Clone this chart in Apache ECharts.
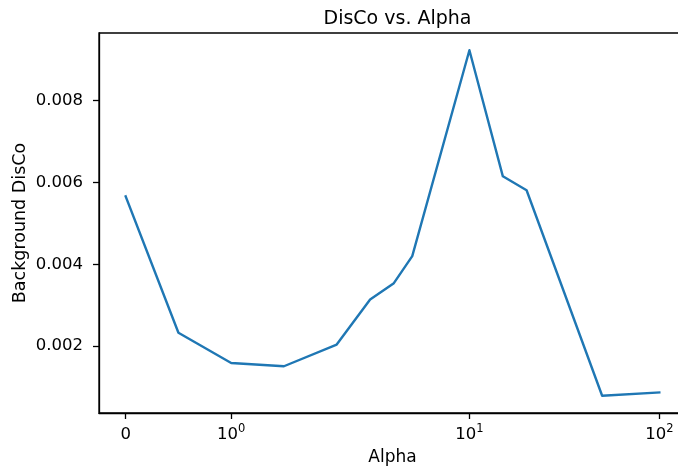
<!DOCTYPE html>
<html>
<head>
<meta charset="utf-8">
<script src="https://cdn.jsdelivr.net/npm/echarts@6.0.0/dist/echarts.min.js"></script>
<style>html,body{margin:0;padding:0;background:#fff}#c{width:678px;height:468px}</style>
</head>
<body>
<div id="c"></div>
<script>
const alphaValues = [0, 0.5, 1, 1.5, 2, 3, 4, 5, 10, 15, 20, 50, 100];
const discoValues = [0.00566, 0.00233, 0.00159, 0.00151, 0.00204, 0.00314, 0.00354, 0.00420, 0.00923, 0.00615, 0.00581, 0.00079, 0.00087];
const xTickValues = [0, 1, 10, 100];
const xTickLabels = ['{b|0}', '{b|10}{sup|0}', '{b|10}{sup|1}', '{b|10}{sup|2}'];
const yTickValues = [0.002, 0.004, 0.006, 0.008];
const yTickLabels = ['0.002', '0.004', '0.006', '0.008'];

// symmetric log scale (linthresh = 2, linscale = 1, base 10), in decade units
const LINTHRESH = 2, LINSCALE_ADJ = 1 / (1 - 1 / 10);
function symlog(x) {
  const a = Math.abs(x), s = Math.sign(x);
  if (a <= LINTHRESH) return x / LINTHRESH * LINSCALE_ADJ;
  return s * (LINSCALE_ADJ + Math.log10(a / LINTHRESH));
}

const tx = alphaValues.map(symlog);
const txMin = Math.min(...tx), txMax = Math.max(...tx);
const yMinD = Math.min(...discoValues), yMaxD = Math.max(...discoValues);
const xm = 0.05 * (txMax - txMin), ym = 0.05 * (yMaxD - yMinD);

const font = 'DejaVu Sans';
const chart = echarts.init(document.getElementById('c'), null, {renderer: 'canvas'});
chart.setOption({
  animation: false,
  backgroundColor: '#fff',
  title: {
    text: 'DisCo vs. Alpha',
    left: 392.5, textAlign: 'center', top: 5,
    textStyle: {fontFamily: font, fontSize: 19, fontWeight: 'normal', color: '#000'}
  },
  grid: {
    left: 99, right: -8, top: 33, bottom: 55,
    outerBoundsMode: 'none', containLabel: false,
    show: true, borderColor: '#000', borderWidth: 1.3, backgroundColor: 'transparent'
  },
  xAxis: {
    type: 'value',
    min: txMin - xm, max: txMax + xm,
    name: 'Alpha', nameLocation: 'middle', nameGap: 36, nameMoveOverlap: false,
    nameTextStyle: {fontFamily: font, fontSize: 17, color: '#000'},
    axisLine: {show: true, onZero: false, lineStyle: {color: '#000', width: 1.3}},
    axisTick: {show: true, inside: false, length: 6, lineStyle: {color: '#000', width: 1.3},
      customValues: xTickValues.map(symlog)},
    splitLine: {show: false},
    axisLabel: {
      show: true, margin: 10, color: '#000', fontFamily: font, fontSize: 16.5,
      customValues: xTickValues.map(symlog),
      formatter: function (v) {
        let best = 0, bd = Infinity;
        xTickValues.forEach((t, i) => { const d = Math.abs(symlog(t) - v); if (d < bd) { bd = d; best = i; } });
        return xTickLabels[best];
      },
      rich: {
        b: {fontFamily: font, fontSize: 16.5, color: '#000', verticalAlign: 'bottom', lineHeight: 20},
        sup: {fontFamily: font, fontSize: 11.5, color: '#000', verticalAlign: 'top', lineHeight: 8}
      }
    }
  },
  yAxis: {
    type: 'value',
    min: yMinD - ym, max: yMaxD + ym,
    name: 'Background DisCo', nameLocation: 'middle', nameGap: 70, nameRotate: 90, nameMoveOverlap: false,
    nameTextStyle: {fontFamily: font, fontSize: 17.5, color: '#000'},
    axisLine: {show: true, onZero: false, lineStyle: {color: '#000', width: 1.3}},
    axisTick: {show: true, inside: false, length: 6, lineStyle: {color: '#000', width: 1.3},
      customValues: yTickValues},
    splitLine: {show: false},
    axisLabel: {
      show: true, margin: 16, color: '#000', fontFamily: font, fontSize: 16.5,
      customValues: yTickValues,
      formatter: function (v) {
        let best = 0, bd = Infinity;
        yTickValues.forEach((t, i) => { const d = Math.abs(t - v); if (d < bd) { bd = d; best = i; } });
        return yTickLabels[best];
      }
    }
  },
  series: [{
    type: 'line',
    data: alphaValues.map((a, i) => [symlog(a), discoValues[i]]),
    showSymbol: false, symbol: 'none',
    lineStyle: {color: '#1f77b4', width: 2.4, join: 'round', cap: 'square'},
    itemStyle: {color: '#1f77b4'},
    clip: true
  }]
});
</script>
</body>
</html>
